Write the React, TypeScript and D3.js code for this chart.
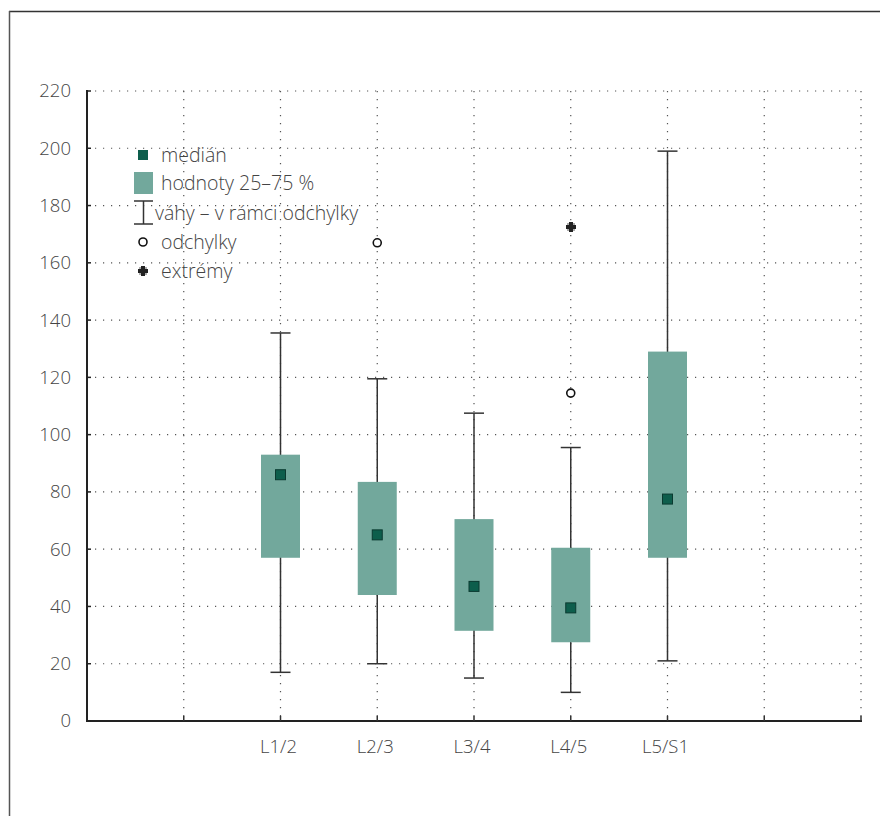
import React from "react";
import * as d3 from "d3";

const categories = ["L1/2", "L2/3", "L3/4", "L4/5", "L5/S1"];
const whiskerLow = [17, 20, 15, 10, 21];
const q1 = [57, 44, 31.5, 27.5, 57];
const medians = [86, 65, 47, 39.5, 77.5];
const q3 = [93, 83.5, 70.5, 60.5, 129];
const whiskerHigh = [135.5, 119.5, 107.5, 95.5, 199];
const outliers: [string, number][] = [["L2/3", 167], ["L4/5", 114.5]];
const extremes: [string, number][] = [["L4/5", 172.5]];
const yTicks = [0, 20, 40, 60, 80, 100, 120, 140, 160, 180, 200, 220];
const xGridSlots = [1, 2, 3, 4, 5, 6, 7, 8];
const legendLabels = ["medián", "hodnoty 25–75 %", "váhy – v rámci odchylky", "odchylky", "extrémy"];

const W = 880, H = 816;
const left = 87, right = 861, top = 91, bottom = 721;
const font = "'Open Sans', 'Noto Sans', sans-serif";
const textCol = "#444";
const boxFill = "#72a89c";
const medFill = "#0d5e4c";

const x = d3.scaleLinear().domain([0, 8]).range([left, right]);
const y = d3.scaleLinear().domain([0, 220]).range([bottom, top]);
const catPos = (c: string) => x(categories.indexOf(c) + 2);

function ExtremeMark({ cx, cy }: { cx: number; cy: number }) {
  const p = "M-2,-5H2V-2H5V2H2V5H-2V2H-5V-2H-2Z";
  return (
    <g transform={`translate(${Math.round(cx)},${Math.round(cy)})`} shapeRendering="crispEdges">
      <rect x={-4} y={-4} width={8} height={8} fill="#aaa" />
      <path d={p} fill="#222" />
    </g>
  );
}

export default function App() {
  const boxW = 39, capW = 20, medS = 10;
  const legX = 143;
  const legY = [155, 183, 213, 242, 271];
  return (
    <svg width={W} height={H} style={{ position: "absolute", left: 0, top: 0, background: "#fff" }} fontFamily={font} fontWeight={300}>
      {/* frame */}
      <line x1={9} y1={11.5} x2={W} y2={11.5} stroke="#333" strokeWidth={1.5} />
      <line x1={9.5} y1={11} x2={9.5} y2={H} stroke="#555" strokeWidth={1.5} />
      {/* horizontal grid */}
      {yTicks.filter(t => t > 0).map(t => (
        <line key={"h" + t} x1={left} x2={right} y1={y(t)} y2={y(t)} stroke="#555" strokeWidth={1.2} strokeDasharray="1.2,6.8" />
      ))}
      {/* vertical grid */}
      {xGridSlots.map(k => (
        <line key={"v" + k} x1={x(k)} x2={x(k)} y1={top} y2={bottom} stroke="#555" strokeWidth={1.2} strokeDasharray="1.2,6.8" />
      ))}
      {/* whiskers */}
      {categories.map((c, i) => {
        const cx = x(i + 2);
        return (
          <g key={"w" + c} stroke="#333" strokeWidth={1.5}>
            <line x1={cx} x2={cx} y1={y(whiskerHigh[i])} y2={y(whiskerLow[i])} />
            <line x1={cx - capW / 2} x2={cx + capW / 2} y1={y(whiskerHigh[i])} y2={y(whiskerHigh[i])} />
            <line x1={cx - capW / 2} x2={cx + capW / 2} y1={y(whiskerLow[i])} y2={y(whiskerLow[i])} />
          </g>
        );
      })}
      {/* boxes */}
      {categories.map((c, i) => {
        const cx = x(i + 2);
        return (
          <g key={"b" + c}>
            <rect x={cx - boxW / 2} width={boxW} y={y(q3[i])} height={y(q1[i]) - y(q3[i])} fill={boxFill} />
            <rect x={cx - medS / 2} y={y(medians[i]) - medS / 2} width={medS} height={medS} fill={medFill} stroke="#0a3a30" strokeWidth={1} />
          </g>
        );
      })}
      {/* outliers */}
      {outliers.map(([c, v], i) => (
        <circle key={"o" + i} cx={catPos(c)} cy={y(v)} r={4} fill="#fff" stroke="#111" strokeWidth={1.6} />
      ))}
      {extremes.map(([c, v], i) => (
        <ExtremeMark key={"e" + i} cx={catPos(c)} cy={y(v)} />
      ))}
      {/* axes */}
      <line x1={left} x2={left} y1={top - 1} y2={bottom + 1} stroke="#222" strokeWidth={2} />
      <line x1={left - 1} x2={right + 1} y1={bottom} y2={bottom} stroke="#222" strokeWidth={2} />
      {yTicks.map(t => (
        <line key={"yt" + t} x1={left} x2={left + 4} y1={y(t)} y2={y(t)} stroke="#222" strokeWidth={1.5} />
      ))}
      {xGridSlots.map(k => (
        <line key={"xt" + k} x1={x(k)} x2={x(k)} y1={bottom} y2={bottom - 5} stroke="#333" strokeWidth={1.5} />
      ))}
      {/* y tick labels */}
      {yTicks.map(t => (
        <text key={"yl" + t} x={71} y={y(t)} dy="0.35em" textAnchor="end" fontSize={18.5} fill={textCol}>{t}</text>
      ))}
      {/* x labels */}
      {categories.map((c, i) => (
        <text key={"xl" + c} x={x(i + 2) - 2} y={753} textAnchor="middle" fontSize={18.5} fill={textCol}>{c}</text>
      ))}
      {/* legend */}
      <g>
        <rect x={legX - 5} y={legY[0] - 5} width={10} height={10} fill={medFill} />
        <rect x={134} y={legY[1] - 11} width={19} height={22} fill={boxFill} />
        <g stroke="#333" strokeWidth={1.5}>
          <line x1={143.5} x2={143.5} y1={legY[2] - 12} y2={legY[2] + 11} />
          <line x1={134} x2={153} y1={legY[2] - 12} y2={legY[2] - 12} />
          <line x1={134} x2={153} y1={legY[2] + 11} y2={legY[2] + 11} />
        </g>
        <circle cx={legX} cy={legY[3]} r={4} fill="#fff" stroke="#111" strokeWidth={1.6} />
        <ExtremeMark cx={legX} cy={legY[4]} />
        {legendLabels.map((l, i) => (
          <text key={"lg" + i} x={i === 2 ? 155 : 161} y={legY[i]} dy="0.35em" fontSize={19.5} fill={textCol}>{l}</text>
        ))}
      </g>
    </svg>
  );
}
